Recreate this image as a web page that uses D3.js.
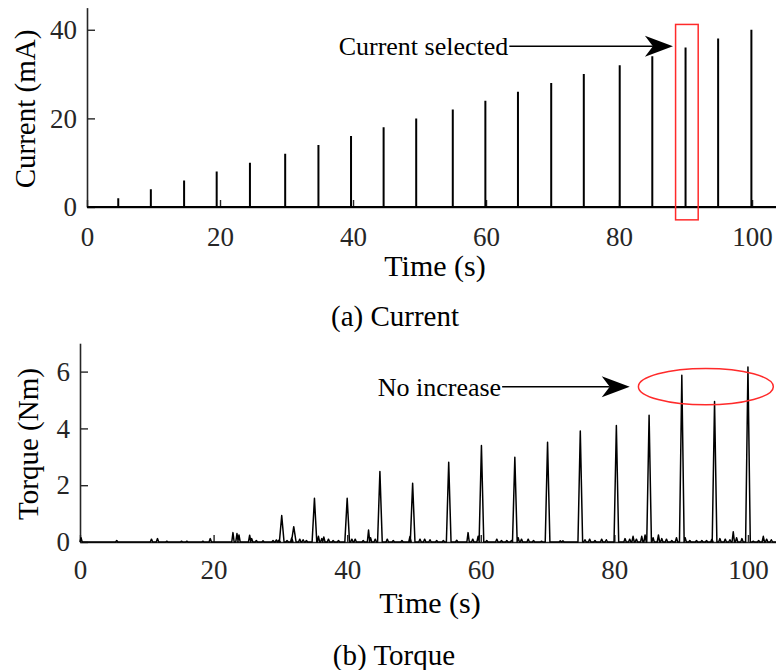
<!DOCTYPE html>
<html>
<head>
<meta charset="utf-8">
<script src="https://cdn.jsdelivr.net/npm/d3@7"></script>
<style>
  body { margin: 0; background: #fff; }
  svg { display: block; }
  text { font-family: "Liberation Serif", "Times New Roman", serif; }
</style>
</head>
<body>
<script>
// values
var currentTimes = [4.7, 9.6, 14.6, 19.5, 24.5, 29.8, 34.8, 39.7, 44.6, 49.5, 55.0, 59.9, 64.8, 69.8, 74.7, 80.1, 85.0, 90.0, 94.9, 99.9];
var currentValues = [2, 4, 6, 8, 10, 12, 14, 16, 18, 20, 22, 24, 26, 28, 30, 32, 34, 36, 38, 40];

var torquePeakTimes = [30.2, 32.0, 35.1, 40.0, 44.9, 49.8, 55.2, 60.1, 65.1, 70.0, 74.9, 80.3, 85.2, 90.1, 95.0, 100.0];
var torquePeakValues = [0.93, 0.54, 1.54, 1.54, 2.48, 2.07, 2.81, 3.40, 2.98, 3.51, 3.91, 4.10, 4.46, 5.87, 4.95, 6.16];

var torqueNoiseTimes = [0.15, 5.5, 10.7, 11.6, 13.0, 15.2, 16.0, 18.4, 19.5, 22.9, 23.5, 23.8, 25.4, 25.7, 26.4, 27.4,
	28.9, 29.4, 29.8, 31.0, 31.7, 32.9, 33.4, 33.9, 35.7, 36.2, 36.5, 37.2, 37.9, 38.7, 40.7, 41.2, 42.4, 43.2, 43.5, 44.2,
	46.0, 46.9, 48.2, 49.4, 50.9, 51.6, 52.4, 53.4, 54.4, 56.4, 58.1, 58.8, 59.6, 60.9, 62.4, 63.1, 63.9, 64.6, 65.6, 66.1,
	67.1, 67.9, 69.1, 71.9, 72.3, 75.6, 76.3, 77.1, 78.1, 78.8, 81.6, 82.3, 82.8, 83.3, 84.1, 84.6, 85.8, 86.6, 87.1, 87.8,
	88.6, 89.3, 90.6, 91.3, 92.3, 93.1, 93.8, 94.6, 95.8, 96.6, 97.3, 97.8, 98.3, 99.1, 100.8, 101.6, 102.3, 102.8, 103.5];
var torqueNoiseValues = [0.15, 0.05, 0.1, 0.12, 0.03, 0.03, 0.03, 0.03, 0.12, 0.33, 0.3, 0.25, 0.24, 0.12, 0.05, 0.04,
	0.05, 0.07, 0.07, 0.05, 0.15, 0.1, 0.08, 0.05, 0.2, 0.12, 0.18, 0.1, 0.05, 0.05, 0.1, 0.1, 0.05, 0.42, 0.15, 0.1,
	0.1, 0.05, 0.05, 0.2, 0.1, 0.1, 0.08, 0.05, 0.05, 0.06, 0.33, 0.1, 0.2, 0.05, 0.1, 0.05, 0.05, 0.05, 0.15, 0.1,
	0.1, 0.05, 0.03, 0.04, 0.04, 0.08, 0.1, 0.05, 0.1, 0.08, 0.12, 0.1, 0.2, 0.1, 0.2, 0.25, 0.15, 0.25, 0.12, 0.1,
	0.05, 0.15, 0.15, 0.05, 0.05, 0.05, 0.05, 0.1, 0.12, 0.1, 0.08, 0.36, 0.15, 0.12, 0.03, 0.05, 0.2, 0.1, 0.08];

var xTicks = [0, 20, 40, 60, 80, 100];
var currentTicks = [0, 20, 40];
var torqueTicks = [0, 2, 4, 6];

var W = 776, H = 670;
var axisColor = "#262626";

var svg = d3.select("body")
	.append("svg")
	.attr("width", W)
	.attr("height", H);

// panel (a)
var xA = d3.scaleLinear().domain([0, 103.6]).range([87, 776]);
var yA = d3.scaleLinear().domain([0, 45]).range([207, 7.6]);

// panel (b)
var xB = d3.scaleLinear().domain([0, 104.2]).range([80, 776]);
var yB = d3.scaleLinear().domain([0, 7]).range([542, 343.2]);

function drawAxes(x, y, yTicks, yPad){
	var gx = svg.append("g")
		.attr("transform", "translate(0," + y.range()[0] + ")")
		.call(d3.axisBottom(x).tickValues(xTicks).tickFormat(d3.format("d"))
			.tickSizeInner(-7).tickSizeOuter(0).tickPadding(yPad));
	var gy = svg.append("g")
		.attr("transform", "translate(" + x.range()[0] + ",0)")
		.call(d3.axisLeft(y).tickValues(yTicks).tickFormat(d3.format("d"))
			.tickSizeInner(-8).tickSizeOuter(0).tickPadding(10));
	[gx, gy].forEach(function(g){
		g.attr("font-family", null).attr("font-size", null);
		g.select(".domain").attr("stroke", axisColor).attr("stroke-width", 1.6);
		g.selectAll(".tick line").attr("stroke", axisColor).attr("stroke-width", 1.4);
		g.selectAll(".tick text")
			.attr("fill", axisColor)
			.style("font-size", "27px");
	});
}

drawAxes(xA, yA, currentTicks, 20);
drawAxes(xB, yB, torqueTicks, 18);

// current spikes
var currentPts = [[0, 0]];
currentTimes.forEach(function(t, i){
	currentPts.push([t, 0], [t, currentValues[i]], [t, 0]);
});
currentPts.push([103.6, 0]);

svg.append("path")
	.datum(currentPts)
	.attr("fill", "none")
	.attr("stroke", "#000")
	.attr("stroke-width", 2)
	.attr("d", d3.line().x(function(d){ return xA(d[0]); }).y(function(d){ return yA(d[1]); }));

// torque trace: narrow peaks plus small noise bumps
var bumps = [];
torquePeakTimes.forEach(function(t, i){ bumps.push({t: t, v: torquePeakValues[i], w: 0.35}); });
torqueNoiseTimes.forEach(function(t, i){ bumps.push({t: t, v: torqueNoiseValues[i], w: 0.18}); });
bumps.sort(function(a, b){ return a.t - b.t; });

var torquePts = [[0, 0]];
bumps.forEach(function(b){
	torquePts.push([Math.max(0, b.t - b.w), 0], [b.t, b.v], [b.t + b.w, 0]);
});
torquePts.push([104.2, 0]);

svg.append("path")
	.datum(torquePts)
	.attr("fill", "none")
	.attr("stroke", "#000")
	.attr("stroke-width", 1.5)
	.attr("stroke-linejoin", "round")
	.attr("d", d3.line().x(function(d){ return xB(d[0]); }).y(function(d){ return yB(d[1]); }));

// axis titles and captions
function label(x, y, txt, size, rotate){
	var t = svg.append("text")
		.attr("text-anchor", "middle")
		.attr("fill", "#000")
		.style("font-size", size + "px")
		.text(txt);
	if (rotate) {
		t.attr("transform", "translate(" + x + "," + y + ") rotate(-90)");
	} else {
		t.attr("x", x).attr("y", y);
	}
	return t;
}

label(435, 276, "Time (s)", 30);
label(430, 613, "Time (s)", 30);
label(35, 109, "Current (mA)", 29, true);
label(38, 444, "Torque (Nm)", 29, true);
label(395, 326, "(a) Current", 29);
label(394, 665, "(b) Torque", 29);

// annotations
function arrow(x, y, t0, t1, v, txt){
	var x0 = x(t0), x1 = x(t1), yy = y(v);
	svg.append("text")
		.attr("x", x0 - 1)
		.attr("y", yy + 9)
		.attr("text-anchor", "end")
		.style("font-size", "26px")
		.text(txt);
	svg.append("line")
		.attr("x1", x0).attr("x2", x1 - 20)
		.attr("y1", yy).attr("y2", yy)
		.attr("stroke", "#000")
		.attr("stroke-width", 1.5);
	svg.append("path")
		.attr("d", "M" + x1 + "," + yy + " L" + (x1 - 28) + "," + (yy - 10.5) + " L" + (x1 - 20) + "," + yy +
			" L" + (x1 - 28) + "," + (yy + 10.5) + " Z")
		.attr("fill", "#000");
}

arrow(xA, yA, 63.5, 88.1, 36.3, "Current selected");
arrow(xB, yB, 63.2, 82.3, 5.47, "No increase");

svg.append("rect")
	.attr("x", xA(88.5))
	.attr("y", yA(41.2))
	.attr("width", xA(91.9) - xA(88.5))
	.attr("height", yA(-2.9) - yA(41.2))
	.attr("fill", "none")
	.attr("stroke", "#ff2a2a")
	.attr("stroke-width", 1.5);

svg.append("ellipse")
	.attr("cx", xB(93.7))
	.attr("cy", yB(5.47))
	.attr("rx", xB(10.1) - xB(0))
	.attr("ry", yB(0) - yB(0.64))
	.attr("fill", "none")
	.attr("stroke", "#ff2a2a")
	.attr("stroke-width", 1.5);
</script>
</body>
</html>
